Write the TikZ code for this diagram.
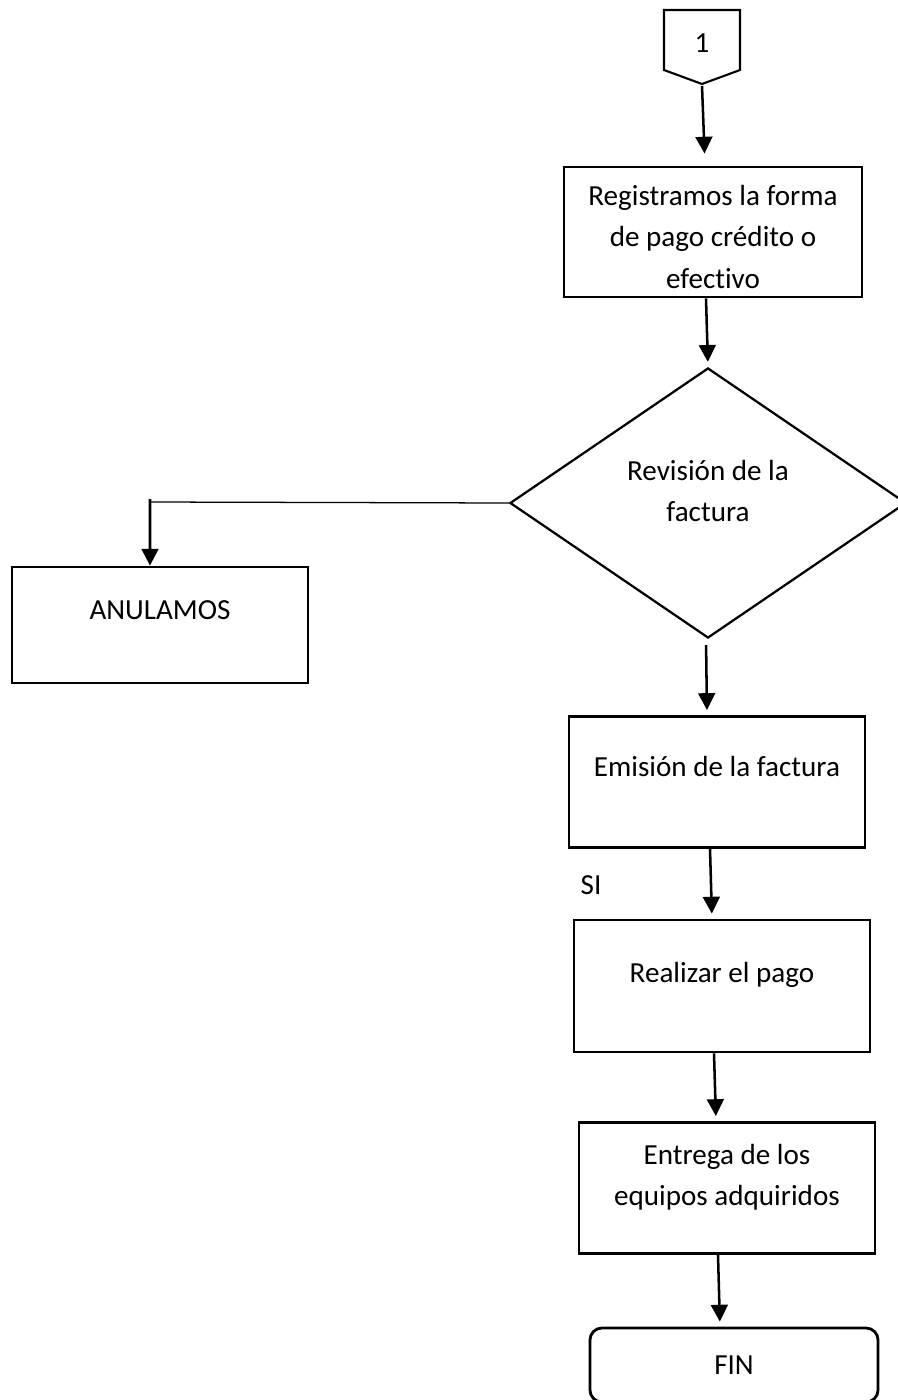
\documentclass[tikz,border=0pt]{standalone}
\usepackage{fontspec}
\setmainfont{Carlito}[Ligatures={NoCommon,NoContextual}]
\usepackage{tikz}
\usetikzlibrary{shapes.geometric,arrows.meta}

\begin{document}
\begin{tikzpicture}[x=0.025cm,y=-0.025cm,
  font=\fontsize{20.7pt}{29.2pt}\selectfont,
  box/.style={draw,line width=2pt,minimum width=7.4cm,minimum height=3.28cm,inner sep=0pt,align=center},
  oneline/.style={text height=0.6cm,text depth=0.9cm},
  arr/.style={line width=1.8pt,-{Triangle[length=0.42cm,width=0.42cm]},shorten >=0.125cm}]
\useasboundingbox (0,0) rectangle (898,1400);
\draw[line width=1.5pt] (664,10) -- (740,10) -- (740,70) -- (702,84) -- (664,70) -- cycle;
\node (one) at (702,43) {1};
\coordinate (onetip) at (702,86);
\node[box,minimum width=7.45cm,minimum height=3.25cm,text height=2.8cm,text depth=0cm] (reg) at (713,232) {Registramos la forma\\de pago cr\'edito o\\efectivo};
\node[diamond,draw,line width=1.6pt,minimum width=9.9cm,minimum height=6.75cm,inner sep=0pt,align=center,text depth=0.625cm] (rev) at (708,503) {Revisi\'on de la\\factura};
\node[box,oneline,minimum height=2.9cm] (anul) at (160,625) {ANULAMOS};
\node[box,oneline] (emi) at (717,782) {Emisi\'on de la factura};
\node (si) at (591,885) {SI};
\node[box,oneline,minimum height=3.3cm,text depth=0.8cm] (pago) at (722,986) {Realizar el pago};
\node[box,text depth=0.65cm] (ent) at (727,1188) {Entrega de los\\equipos adquiridos};
\node[draw,line width=2pt,rounded corners=0.3cm,minimum width=7.2cm,minimum height=1.85cm] (fin) at (734,1365) {FIN};
\coordinate (knee) at (150,502);
\draw[arr,shorten >=0.3cm] (onetip) -- ([xshift=-0.2cm]reg.north);
\draw[arr] ([xshift=-0.175cm]reg.south) -- (rev.north);
\draw[line width=0.9pt] (rev.west) -- (knee);
\draw[arr,shorten >=0pt] ([yshift=0.075cm]knee) -- ([xshift=-0.25cm]anul.north);
\draw[arr,shorten <=0.15cm] ([xshift=-0.05cm]rev.south) -- ([xshift=-0.25cm]emi.north);
\draw[arr] ([xshift=-0.175cm]emi.south) -- ([xshift=-0.25cm]pago.north);
\draw[arr] ([xshift=-0.2cm]pago.south) -- ([xshift=-0.275cm]ent.north);
\draw[arr] ([xshift=-0.225cm]ent.south) -- ([xshift=-0.35cm]fin.north);
\end{tikzpicture}
\end{document}
